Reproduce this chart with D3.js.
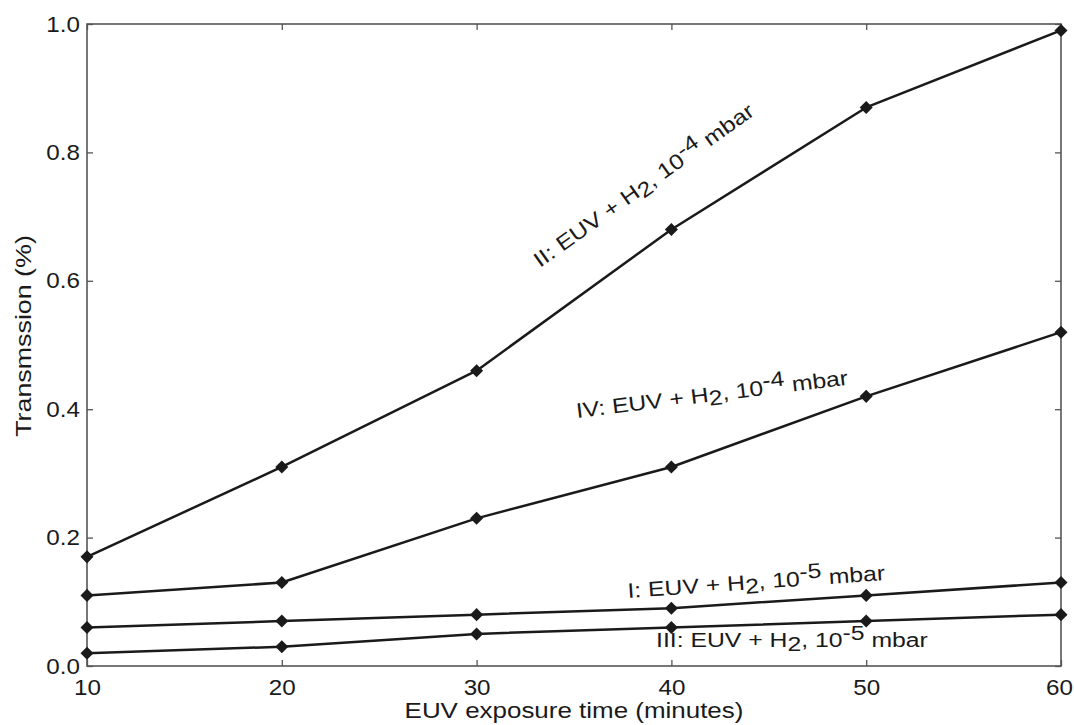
<!DOCTYPE html>
<html><head><meta charset="utf-8">
<script src="https://cdn.jsdelivr.net/npm/d3@7"></script>
<style>body{margin:0;background:#fff}svg{display:block}text{font-family:"Liberation Sans",Arial,Helvetica,sans-serif;fill:#1a1a1a}</style>
</head><body><svg id="c" width="1074" height="725"></svg>
<script>
const times = [10, 20, 30, 40, 50, 60];
const seriesII = [0.17, 0.31, 0.46, 0.68, 0.87, 0.99];
const seriesIV = [0.11, 0.13, 0.23, 0.31, 0.42, 0.52];
const seriesI = [0.06, 0.07, 0.08, 0.09, 0.11, 0.13];
const seriesIII = [0.02, 0.03, 0.05, 0.06, 0.07, 0.08];
const xTicks = [10, 20, 30, 40, 50, 60];
const yTicks = [0, 0.2, 0.4, 0.6, 0.8, 1.0];
const labels = [
  {roman: "II", exp: "-4"},
  {roman: "IV", exp: "-4"},
  {roman: "I", exp: "-5"},
  {roman: "III", exp: "-5"}
];

const svg = d3.select("#c");
const L = 87, R = 1061, T = 24, B = 666;
const SX = 1.18;  // horizontal glyph stretch of the original figure
const TSX = 1.1;  // stretch for tick labels
const x = d3.scaleLinear().domain([10, 60]).range([L, R]);
const y = d3.scaleLinear().domain([0, 1]).range([B, T]);
const axisColor = "#555";

svg.append("rect").attr("x", L).attr("y", T).attr("width", R - L).attr("height", B - T)
  .attr("fill", "none").attr("stroke", axisColor).attr("stroke-width", 1.6);

const tl = 6;
function styleAxis(g) {
  g.select(".domain").remove();
  g.selectAll(".tick line").attr("stroke", axisColor).attr("stroke-width", 1.3);
  g.selectAll(".tick text").style("font-size", "22px").attr("fill", "#1a1a1a");
}
svg.append("g").attr("transform", `translate(0,${B})`)
  .call(d3.axisBottom(x).tickValues(xTicks).tickSizeInner(-tl).tickSizeOuter(0).tickPadding(13).tickFormat(d3.format("d")))
  .call(styleAxis)
  .selectAll(".tick text").attr("transform", `scale(${TSX},1)`)
  .attr("x", d => d === 60 ? -2 / TSX : 0);
svg.append("g").attr("transform", `translate(0,${T})`)
  .call(d3.axisTop(x).tickValues(xTicks).tickSizeInner(-tl).tickSizeOuter(0).tickFormat(""))
  .call(styleAxis);
svg.append("g").attr("transform", `translate(${L},0)`)
  .call(d3.axisLeft(y).tickValues(yTicks).tickSizeInner(-tl).tickSizeOuter(0).tickFormat(d3.format(".1f")))
  .call(styleAxis)
  .selectAll(".tick text").attr("x", -7 / TSX).attr("transform", `scale(${TSX},1)`);
svg.append("g").attr("transform", `translate(${R},0)`)
  .call(d3.axisRight(y).tickValues(yTicks).tickSizeInner(-tl).tickSizeOuter(0).tickFormat(""))
  .call(styleAxis);

// axis titles
svg.append("text").attr("transform", `translate(${(L + R) / 2},718) scale(${SX},1)`).attr("text-anchor", "middle")
  .style("font-size", "22px").text("EUV exposure time (minutes)");
svg.append("text").attr("transform", `translate(31,336) rotate(-90) scale(1.22,1)`).attr("text-anchor", "middle")
  .style("font-size", "22px").text("Transmssion (%)");

// lines and markers
const line = d3.line().x((d, i) => x(times[i])).y(d => y(d));
const diamond = d3.symbol().type(d3.symbolSquare).size(85);
[seriesII, seriesIV, seriesI, seriesIII].forEach(s => {
  svg.append("path").datum(s).attr("d", line).attr("fill", "none")
    .attr("stroke", "#1a1a1a").attr("stroke-width", 2.5).attr("stroke-linejoin", "round");
  svg.append("g").selectAll("path").data(s).join("path")
    .attr("transform", (d, i) => `translate(${x(times[i])},${y(d)}) rotate(45)`)
    .attr("d", diamond).attr("fill", "#1a1a1a");
});

// annotations
const pos = [
  {x: 540, y: 268, rot: -35.5},
  {x: 577, y: 418, rot: -7},
  {x: 628, y: 598, rot: -4},
  {x: 656, y: 647, rot: 0}
];
labels.forEach((lb, i) => {
  const p = pos[i];
  const t = svg.append("text").attr("transform", `translate(${p.x},${p.y}) rotate(${p.rot}) scale(${SX},1)`)
    .style("font-size", "21px");
  t.append("tspan").text(`${lb.roman}: EUV + H`);
  t.append("tspan").attr("dy", 4).text("2");
  t.append("tspan").attr("dy", -4).text(", 10");
  t.append("tspan").attr("dy", -7).text(lb.exp);
  t.append("tspan").attr("dy", 7).text(" mbar");
});
</script></body></html>
